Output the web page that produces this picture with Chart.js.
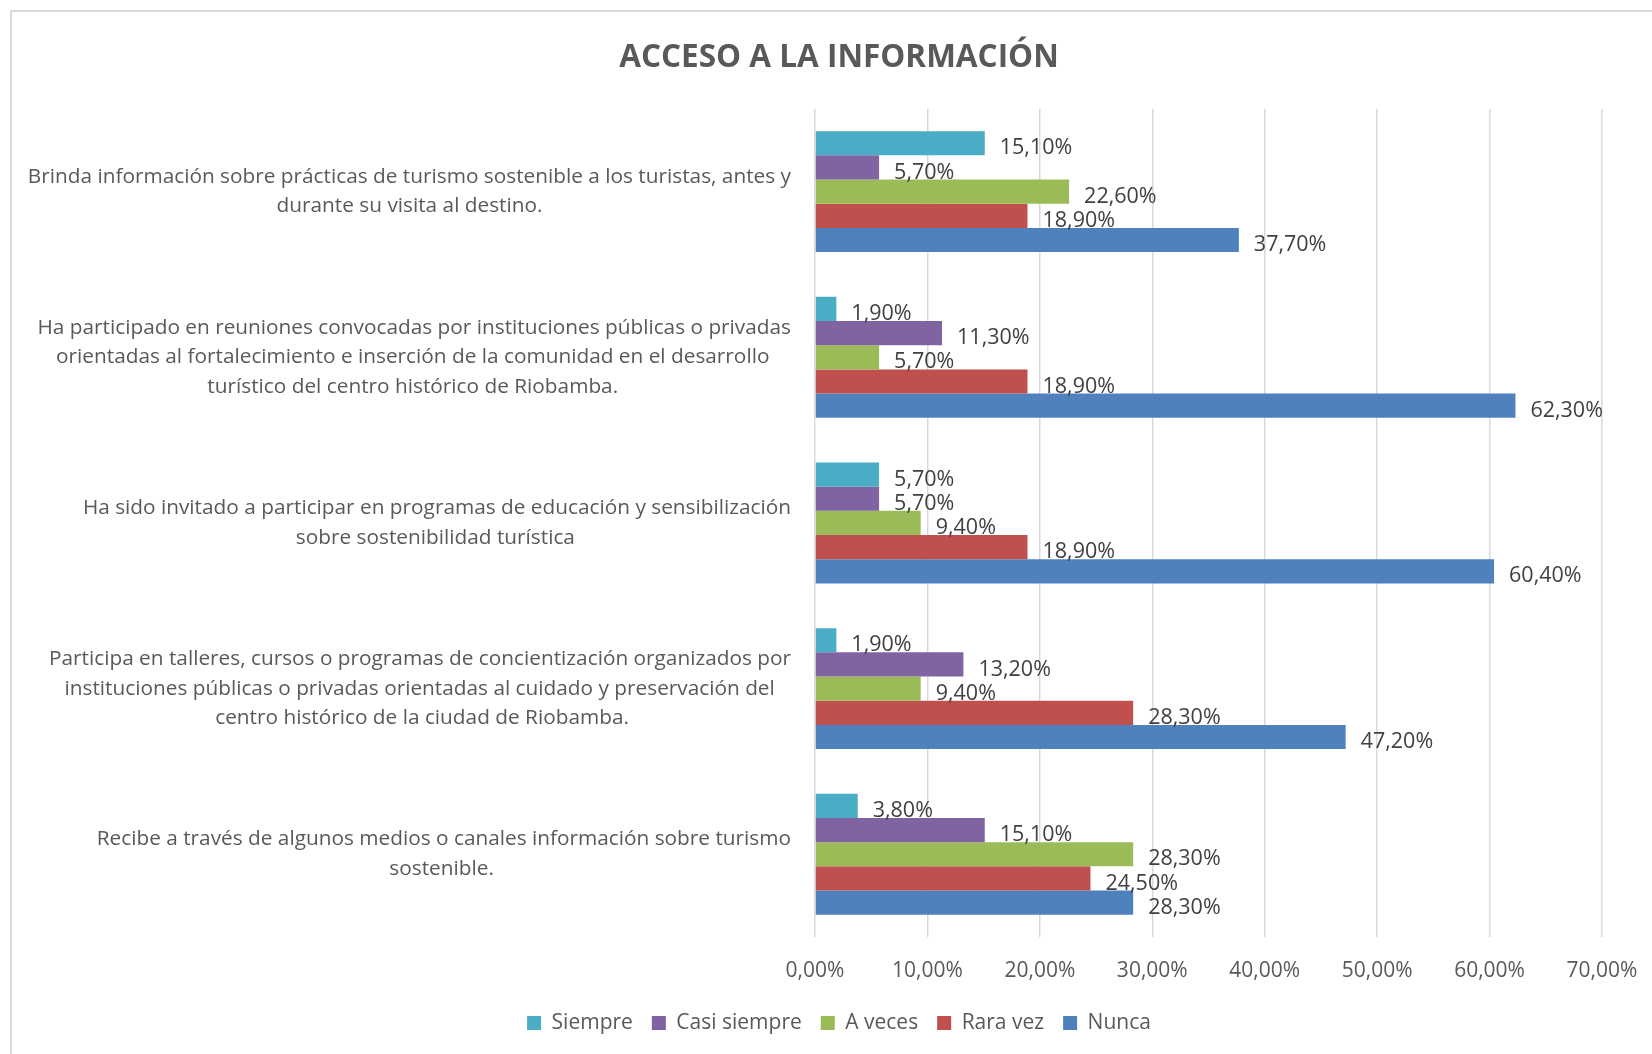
<!DOCTYPE html>
<html lang="es">
<head>
    <meta charset="UTF-8">
    <title>Acceso a la información</title>
    <style>
        html, body { margin: 0; padding: 0; background: #ffffff; overflow: hidden; }
        /* chart frame: only the top/left edges show in the reference */
        #frame {
            position: absolute;
            left: 10px;
            top: 10px;
            width: 1640px;
            height: 1042px;
            border-left: 2px solid #d9d9d9;
            border-top: 2px solid #d9d9d9;
        }
    </style>
    <script src="https://cdn.jsdelivr.net/npm/chart.js"></script>
</head>
<body>
    <div id="frame"><canvas id="accesoChart"></canvas></div>

    <script>
        // categories (each one split into the lines shown on the axis)
        const categories = [
            ["Brinda información sobre prácticas de turismo sostenible a los turistas, antes y",
             "durante su visita al destino."],
            ["Ha participado en reuniones convocadas por instituciones públicas o privadas",
             "orientadas al fortalecimiento e inserción de la comunidad en el desarrollo",
             "turístico del centro histórico de Riobamba."],
            ["Ha sido invitado a participar en programas de educación y sensibilización",
             "sobre sostenibilidad turística"],
            ["Participa en talleres, cursos o programas de concientización organizados por",
             "instituciones públicas o privadas orientadas al cuidado y preservación del",
             "centro histórico de la ciudad de Riobamba."],
            ["Recibe a través de algunos medios o canales información sobre turismo",
             "sostenible."]
        ];

        // series values, in percent
        const siempre     = [15.1, 1.9, 5.7, 1.9, 3.8];
        const casiSiempre = [5.7, 11.3, 5.7, 13.2, 15.1];
        const aVeces      = [22.6, 5.7, 9.4, 9.4, 28.3];
        const raraVez     = [18.9, 18.9, 18.9, 28.3, 24.5];
        const nunca       = [37.7, 62.3, 60.4, 47.2, 28.3];

        const seriesNames = ["Siempre", "Casi siempre", "A veces", "Rara vez", "Nunca"];
        const xTicks = [0, 10, 20, 30, 40, 50, 60, 70];

        const colors = ["#4BACC6", "#8064A2", "#9BBB59", "#C0504D", "#4F81BD"];
        const fontFamily = "'Open Sans', sans-serif";
        const catFontSize = 20.8;

        function pct(v) {
            return v.toFixed(2).replace('.', ',') + '%';
        }

        // Excel right-aligns each label block and centres its lines inside it,
        // so pad the shorter lines with trailing spaces (drawn right-aligned)
        const measureCtx = document.createElement('canvas').getContext('2d');
        measureCtx.font = catFontSize + "px " + fontFamily;
        function centredLines(lines) {
            const spaceW = measureCtx.measureText(' ').width;
            const widths = lines.map(l => measureCtx.measureText(l).width);
            const maxW = Math.max(...widths);
            return lines.map((l, i) => l + ' '.repeat(Math.round((maxW - widths[i]) / 2 / spaceW)));
        }

        // draws the value at the end of each bar (no datalabels plugin available)
        const barValueLabels = {
            id: 'barValueLabels',
            afterDatasetsDraw(chart) {
                const ctx = chart.ctx;
                ctx.save();
                ctx.font = "21.5px " + fontFamily;
                ctx.fillStyle = "#404040";
                ctx.textAlign = "left";
                ctx.textBaseline = "middle";
                chart.data.datasets.forEach((ds, i) => {
                    const meta = chart.getDatasetMeta(i);
                    meta.data.forEach((bar, j) => {
                        ctx.fillText(pct(ds.data[j]), bar.x + 15, bar.y + 5);
                    });
                });
                ctx.restore();
            }
        };

        const allSeries = [siempre, casiSiempre, aVeces, raraVez, nunca];

        const ctx = document.getElementById('accesoChart').getContext('2d');
        new Chart(ctx, {
            type: 'bar',
            data: {
                labels: categories,
                datasets: allSeries.map((vals, i) => ({
                    label: seriesNames[i],
                    data: vals,
                    backgroundColor: colors[i],
                    borderWidth: 0,
                    barPercentage: 1.0,
                    categoryPercentage: 0.73
                }))
            },
            options: {
                indexAxis: 'y',
                responsive: true,
                maintainAspectRatio: false,
                animation: false,
                layout: {
                    padding: { left: 14, right: 0, top: 0, bottom: 10.5 }
                },
                plugins: {
                    title: {
                        display: true,
                        text: 'ACCESO A LA INFORMACIÓN',
                        color: '#595959',
                        font: { family: fontFamily, size: 31.5, weight: 'bold' },
                        padding: { top: 27, bottom: 32 }
                    },
                    legend: {
                        position: 'bottom',
                        labels: {
                            color: '#595959',
                            font: { family: fontFamily, size: 21 },
                            boxWidth: 14,
                            boxHeight: 14,
                            padding: 19
                        }
                    },
                    tooltip: { enabled: false }
                },
                scales: {
                    x: {
                        min: 0,
                        max: 70,
                        afterBuildTicks: s => { s.ticks = xTicks.map(v => ({ value: v })); },
                        afterFit: s => { s.height = 56.4; s.paddingRight = 50; },
                        grid: { color: '#d9d9d9', lineWidth: 1.5, drawTicks: false },
                        border: { display: false },
                        ticks: {
                            padding: 21,
                            color: '#595959',
                            font: { family: fontFamily, size: 21 },
                            callback: v => pct(v)
                        }
                    },
                    y: {
                        afterFit: s => { s.width = 789; },
                        grid: { display: false, drawTicks: false },
                        border: { display: false },
                        ticks: {
                            padding: 24,
                            crossAlign: 'near',
                            color: '#595959',
                            font: { family: fontFamily, size: catFontSize, lineHeight: 1.42 },
                            callback: (v, i) => centredLines(categories[i])
                        }
                    }
                }
            },
            plugins: [barValueLabels]
        });
    </script>
</body>
</html>
